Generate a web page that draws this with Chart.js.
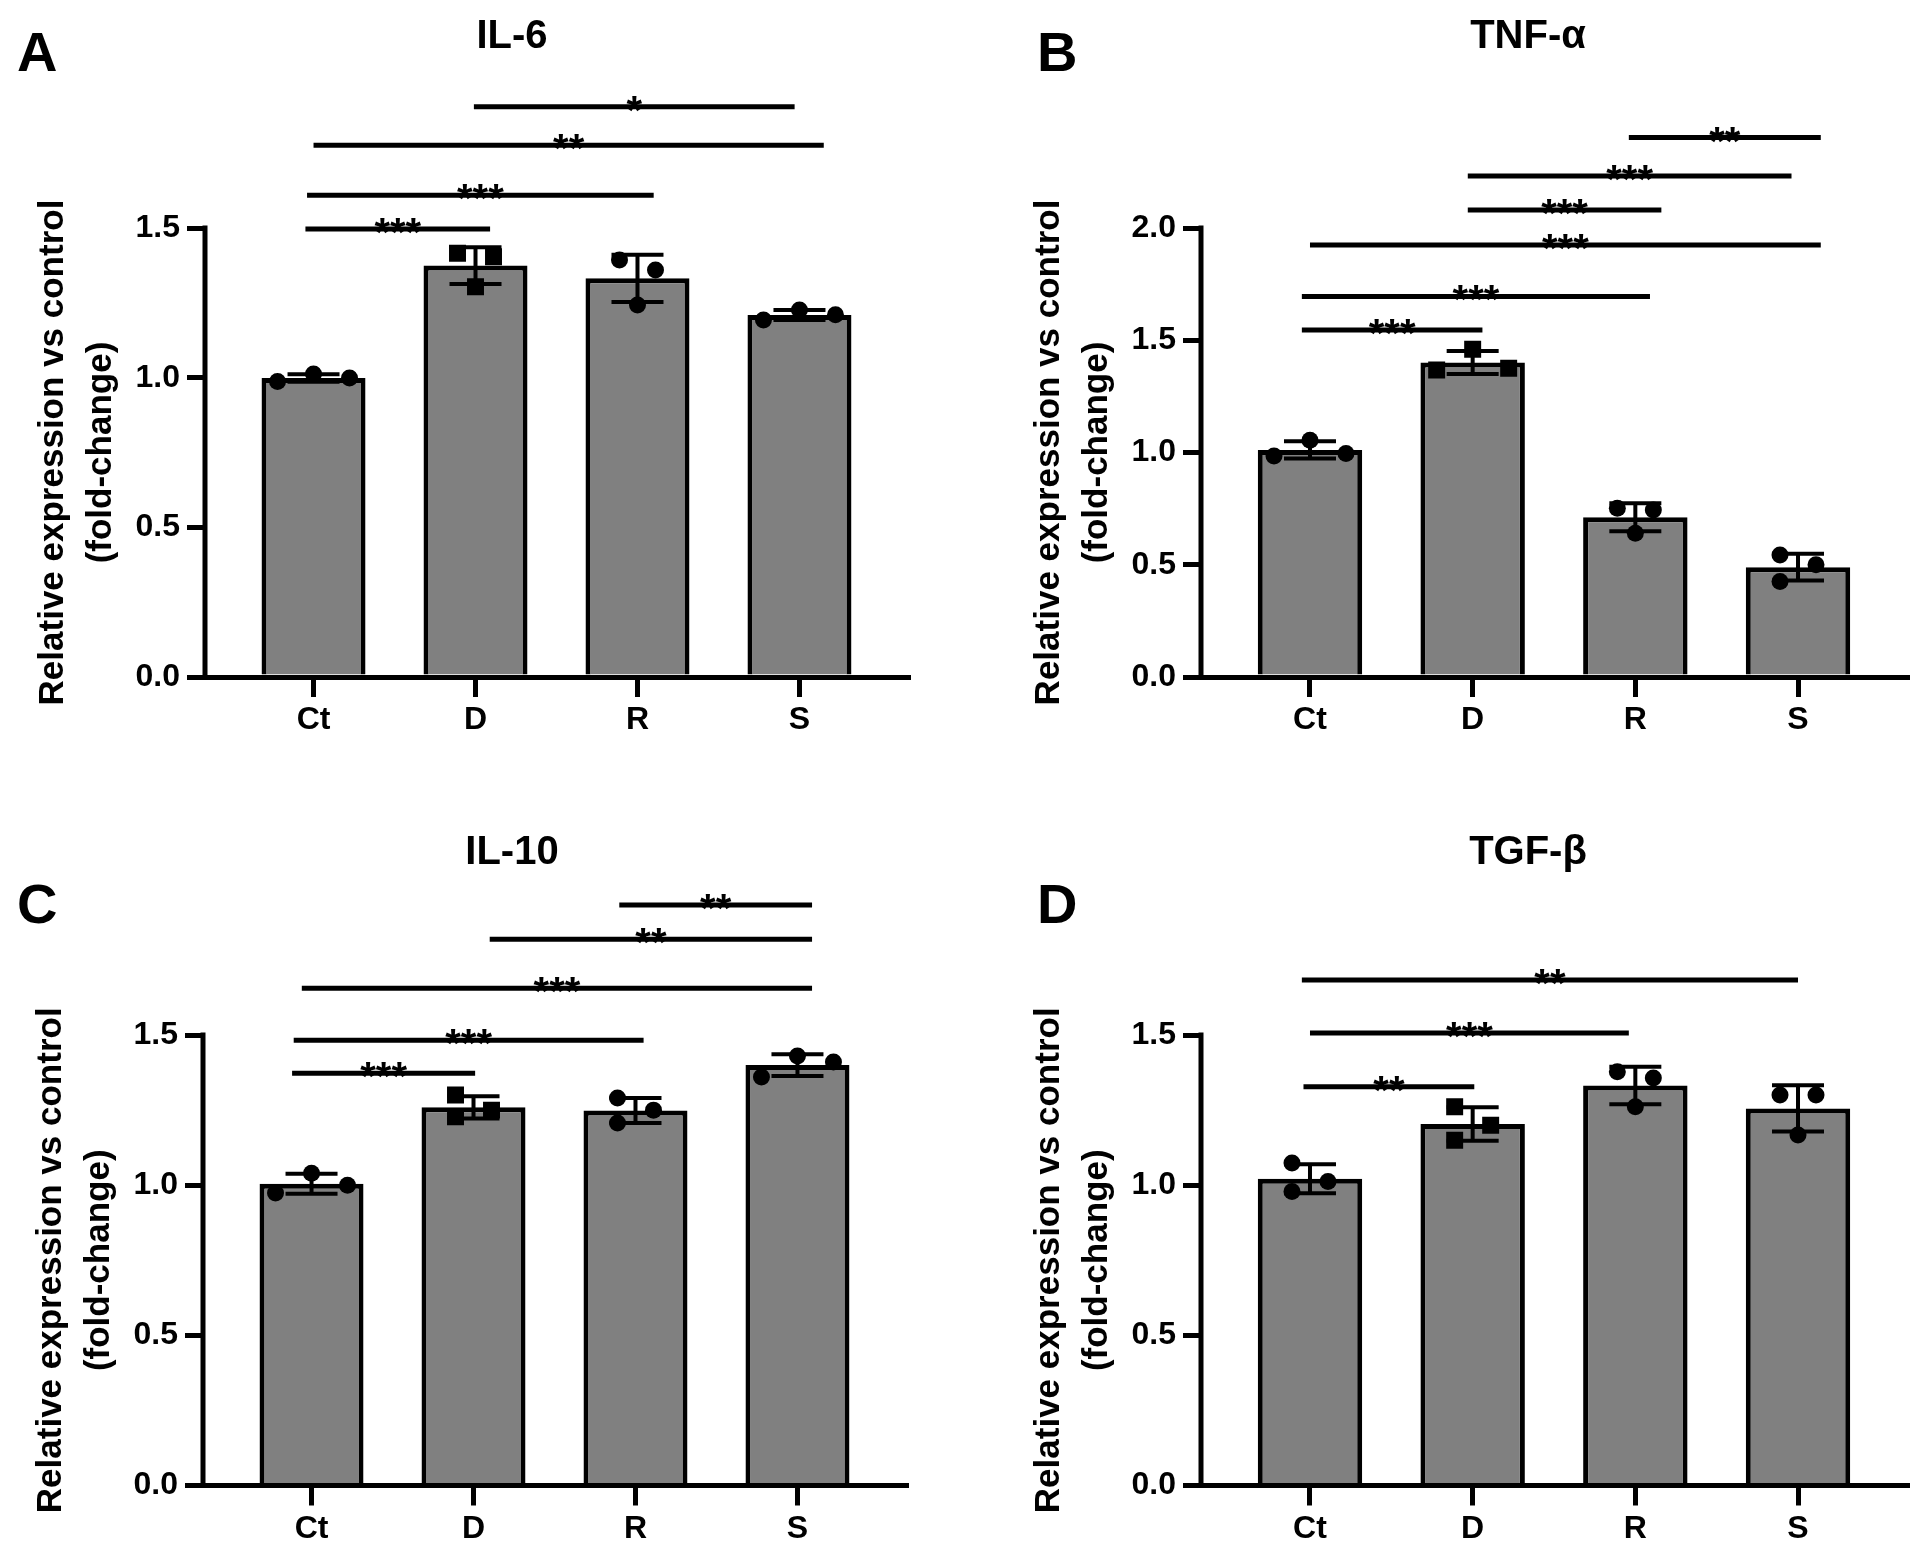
<!DOCTYPE html>
<html lang="en">
<head>
<meta charset="UTF-8">
<title>Cytokine expression</title>
<script src="https://cdn.jsdelivr.net/npm/chart.js@4"></script>
<style>
  html, body { margin: 0; padding: 0; background: #fff; }
  #figure { position: relative; width: 1925px; height: 1557px; }
  #figure canvas { position: absolute; }
</style>
</head>
<body>
<div id="figure">
  <canvas id="panelA" width="962" height="778" style="left:0;top:0"></canvas>
  <canvas id="panelB" width="963" height="778" style="left:962px;top:0"></canvas>
  <canvas id="panelC" width="962" height="779" style="left:0;top:778px"></canvas>
  <canvas id="panelD" width="963" height="779" style="left:962px;top:778px"></canvas>
</div>
<script>
// groups on the x axis
const categories = ['Ct', 'D', 'R', 'S'];

// y tick values
const yTicksShort = [0, 0.5, 1.0, 1.5];
const yTicksTall = [0, 0.5, 1.0, 1.5, 2.0];

const yLabelLines = ['Relative expression vs control', '(fold-change)'];

// replicate values (fold change), one array per group: Ct, D, R, S
const il6Values  = [[0.987, 1.012, 0.999], [1.416, 1.304, 1.404], [1.393, 1.243, 1.360], [1.193, 1.226, 1.210]];
const tnfValues  = [[0.984, 1.055, 0.996], [1.367, 1.460, 1.375], [0.752, 0.640, 0.744], [0.543, 0.425, 0.500]];
const il10Values = [[0.974, 1.040, 1.000], [1.300, 1.228, 1.250], [1.290, 1.207, 1.250], [1.360, 1.430, 1.410]];
const tgfValues  = [[0.979, 1.074, 1.012], [1.150, 1.261, 1.200], [1.378, 1.261, 1.357], [1.300, 1.167, 1.300]];

// significance brackets: [from group, to group, level, label]
const il6Sig = [
  [0.99, 2.97, 1.905, '*'],
  [0.00, 3.15, 1.777, '**'],
  [-0.04, 2.10, 1.610, '***'],
  [-0.05, 1.09, 1.497, '***']
];
const tnfSig = [
  [1.96, 3.14, 2.403, '**'],
  [0.97, 2.96, 2.232, '***'],
  [0.97, 2.16, 2.080, '***'],
  [0.00, 3.14, 1.924, '***'],
  [-0.05, 2.09, 1.695, '***'],
  [-0.05, 1.06, 1.546, '***']
];
const il10Sig = [
  [1.90, 3.09, 1.933, '**'],
  [1.10, 3.09, 1.819, '**'],
  [-0.06, 3.09, 1.656, '***'],
  [-0.11, 2.05, 1.483, '***'],
  [-0.12, 1.01, 1.373, '***']
];
const tgfSig = [
  [-0.05, 3.00, 1.683, '**'],
  [0.00, 1.96, 1.507, '***'],
  [-0.04, 1.01, 1.328, '**']
];

const FONT = "'Liberation Sans', Arial, Helvetica, sans-serif";
const markerStyles = ['circle', 'rect', 'circle', 'circle'];
const markerRadius = { circle: 8.5, rect: 12 };
const X_MIN = -0.67, X_MAX = 3.67;

// canvas geometry of each panel (pixels inside its canvas)
const panels = [
  { canvas: 'panelA', letter: 'A', title: 'IL-6', values: il6Values, sig: il6Sig, yTicks: yTicksShort,
    box: { left: 205, right: 908, bottom: 677, unit: 299.3, yMax: 2.0, titleX: 512, titleY: 48, letterX: 17, letterY: 71 } },
  { canvas: 'panelB', letter: 'B', title: 'TNF-\u03b1', values: tnfValues, sig: tnfSig, yTicks: yTicksTall,
    box: { left: 239, right: 945, bottom: 677, unit: 224.5, yMax: 2.6, titleX: 566, titleY: 48, letterX: 75, letterY: 71 } },
  { canvas: 'panelC', letter: 'C', title: 'IL-10', values: il10Values, sig: il10Sig, yTicks: yTicksShort,
    box: { left: 203, right: 906, bottom: 707.5, unit: 300.3, yMax: 2.05, titleX: 512, titleY: 86, letterX: 17, letterY: 145 } },
  { canvas: 'panelD', letter: 'D', title: 'TGF-\u03b2', values: tgfValues, sig: tgfSig, yTicks: yTicksShort,
    box: { left: 239, right: 945, bottom: 707.5, unit: 300.3, yMax: 2.05, titleX: 566, titleY: 86, letterX: 75, letterY: 145 } }
];

function mean(a) { return a.reduce((s, v) => s + v, 0) / a.length; }
function sd(a) {
  const m = mean(a);
  return Math.sqrt(a.reduce((s, v) => s + (v - m) * (v - m), 0) / (a.length - 1));
}

// spread overlapping replicate dots sideways, like a column scatter
function swarmOffsets(reps, unit) {
  const step = 18, near = 20, tight = 21.5;
  const order = reps.map((v, k) => k).sort((a, b) => reps[b] - reps[a]);
  const off = reps.map(() => 0);
  const clusters = [];
  let cur = [order[0]];
  for (let j = 1; j < order.length; j++) {
    if ((reps[order[j - 1]] - reps[order[j]]) * unit < near) cur.push(order[j]);
    else { clusters.push(cur); cur = [order[j]]; }
  }
  clusters.push(cur);
  clusters.forEach(c => {
    if (c.length === 2) { off[c[0]] = -step; off[c[1]] = step; }
    if (c.length === 3) {
      const span = (reps[c[0]] - reps[c[2]]) * unit;
      const pat = span < tight ? [0, 2 * step, -2 * step] : [-step, step, -step];
      c.forEach((k, j) => { off[k] = pat[j]; });
    }
  });
  return off;
}

function extrasPlugin(p) {
  const box = p.box;
  return {
    id: 'extras' + p.letter,
    afterDatasetsDraw(chart) {
      const ctx = chart.ctx, xs = chart.scales.x, ys = chart.scales.y;
      const area = chart.chartArea;
      ctx.save();
      ctx.strokeStyle = '#000';
      ctx.fillStyle = '#000';

      // error bars (mean +/- SD)
      ctx.lineWidth = 4;
      p.values.forEach((reps, i) => {
        const m = mean(reps), s = sd(reps);
        const cx = xs.getPixelForValue(i);
        const yt = ys.getPixelForValue(m + s), yb = ys.getPixelForValue(m - s);
        ctx.beginPath();
        ctx.moveTo(cx, yt); ctx.lineTo(cx, yb);
        ctx.moveTo(cx - 26, yt); ctx.lineTo(cx + 26, yt);
        ctx.moveTo(cx - 26, yb); ctx.lineTo(cx + 26, yb);
        ctx.stroke();
      });

      // y axis line, from 0 to the top tick
      const top = p.yTicks[p.yTicks.length - 1];
      ctx.lineWidth = 5;
      ctx.lineCap = 'square';
      ctx.beginPath();
      ctx.moveTo(area.left, ys.getPixelForValue(0));
      ctx.lineTo(area.left, ys.getPixelForValue(top));
      ctx.stroke();

      // significance brackets
      ctx.lineCap = 'butt';
      ctx.font = 'bold 40px ' + FONT;
      ctx.textAlign = 'center';
      ctx.textBaseline = 'alphabetic';
      p.sig.forEach(([a, b, level, label]) => {
        const py = ys.getPixelForValue(level);
        const x1 = xs.getPixelForValue(a), x2 = xs.getPixelForValue(b);
        ctx.beginPath();
        ctx.moveTo(x1, py); ctx.lineTo(x2, py);
        ctx.stroke();
        ctx.fillText(label, (x1 + x2) / 2, py + 17);
      });
      ctx.restore();
    },
    afterDraw(chart) {
      const ctx = chart.ctx, ys = chart.scales.y;
      ctx.save();
      ctx.fillStyle = '#000';
      // panel letter
      ctx.font = 'bold 56px ' + FONT;
      ctx.textAlign = 'left';
      ctx.textBaseline = 'alphabetic';
      ctx.fillText(p.letter, box.letterX, box.letterY);
      // gene title
      ctx.font = 'bold 40px ' + FONT;
      ctx.textAlign = 'center';
      ctx.fillText(p.title, box.titleX, box.titleY);
      // y axis title, centred on the drawn axis
      const top = p.yTicks[p.yTicks.length - 1];
      const yc = (ys.getPixelForValue(0) + ys.getPixelForValue(top)) / 2;
      ctx.font = 'bold 35px ' + FONT;
      ctx.textBaseline = 'middle';
      [-152, -104].forEach((dx, k) => {
        ctx.save();
        ctx.translate(box.left + dx, yc);
        ctx.rotate(-Math.PI / 2);
        ctx.fillText(yLabelLines[k], 0, 0);
        ctx.restore();
      });
      ctx.restore();
    }
  };
}

function buildPanel(p) {
  const box = p.box;
  const canvas = document.getElementById(p.canvas);
  const xUnit = (box.right - box.left) / (X_MAX - X_MIN);
  const topPad = box.bottom - box.yMax * box.unit;

  const dotSets = p.values.map((reps, i) => {
    const off = swarmOffsets(reps, box.unit);
    const style = markerStyles[i];
    return {
      type: 'scatter',
      data: reps.map((v, k) => ({ x: i + off[k] / xUnit, y: v })),
      pointStyle: style,
      pointRadius: markerRadius[style],
      pointBackgroundColor: '#000',
      pointBorderColor: '#000',
      pointBorderWidth: 0,
      order: 1
    };
  });

  return new Chart(canvas, {
    type: 'bar',
    data: {
      datasets: [{
        type: 'bar',
        data: p.values.map((reps, i) => ({ x: i, y: mean(reps) })),
        backgroundColor: '#808080',
        borderColor: '#000',
        borderWidth: 5,
        barPercentage: 0.642,
        categoryPercentage: 1,
        order: 2
      }].concat(dotSets)
    },
    options: {
      responsive: false,
      animation: false,
      devicePixelRatio: 1,
      layout: { padding: { top: topPad, right: canvas.width - box.right, bottom: 0, left: 0 } },
      plugins: { legend: { display: false }, tooltip: { enabled: false } },
      scales: {
        x: {
          type: 'linear',
          offset: false,
          min: X_MIN,
          max: X_MAX,
          afterBuildTicks: s => { s.ticks = categories.map((c, i) => ({ value: i })); },
          afterFit: s => { s.height = canvas.height - box.bottom; },
          ticks: {
            callback: v => categories[v],
            color: '#000',
            padding: 4,
            maxRotation: 0,
            font: { family: FONT, size: 32, weight: 'bold' }
          },
          grid: { offset: false, drawOnChartArea: false, drawTicks: true, tickLength: 20, lineWidth: 5, color: '#000' },
          border: { display: true, color: '#000', width: 5 }
        },
        y: {
          min: 0,
          max: box.yMax,
          afterBuildTicks: s => { s.ticks = p.yTicks.map(v => ({ value: v })); },
          afterFit: s => { s.width = box.left; },
          ticks: {
            callback: v => v.toFixed(1),
            color: '#000',
            padding: 7,
            font: { family: FONT, size: 32, weight: 'bold' }
          },
          grid: { drawOnChartArea: false, drawTicks: true, tickLength: 18, lineWidth: 5, color: '#000' },
          border: { display: false }
        }
      }
    },
    plugins: [extrasPlugin(p)]
  });
}

panels.forEach(buildPanel);
</script>
</body>
</html>
